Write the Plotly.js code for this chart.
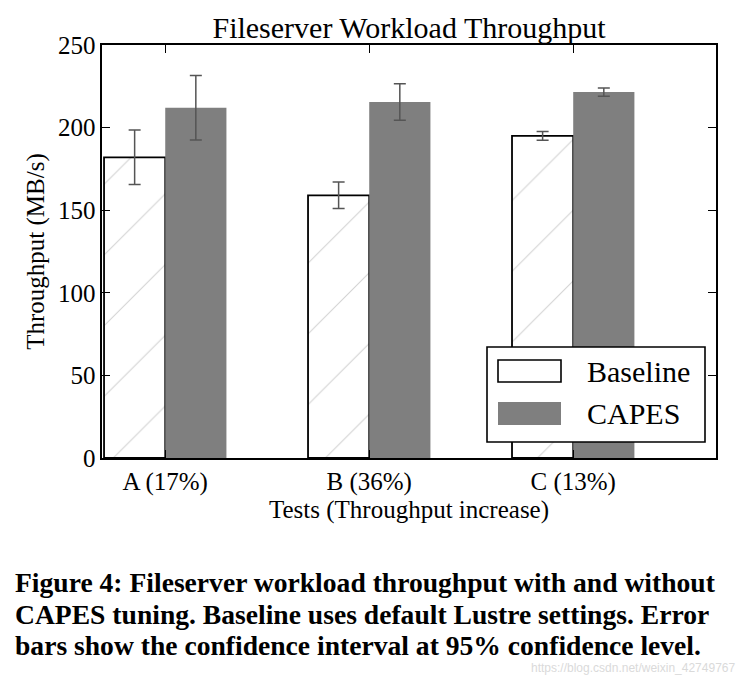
<!DOCTYPE html>
<html>
<head>
<meta charset="utf-8">
<script src="https://cdn.plot.ly/plotly-3.0.1.min.js"></script>
<style>html,body{margin:0;padding:0;background:#fff;}#chart{width:746px;height:675px;}</style>
</head>
<body>
<div id="chart"></div>
<script>
const categories = ["A (17%)", "B (36%)", "C (13%)"];
const baselineValues = [182, 159, 195];
const baselineErrors = [16.5, 8, 2.7];
const capesValues = [212, 215.5, 221.5];
const capesErrors = [19.5, 11, 2.5];
const yTicks = [0, 50, 100, 150, 200, 250];

const serif = "Liberation Serif, Times New Roman, serif";
const L = 102, R = 716, T = 45, B = 458;
const px = v => (v - L) / (R - L);
const py = v => (B - v) / (B - T);

const traces = [
  {
    type: "bar", name: "Baseline", x: categories, y: baselineValues,
    width: 0.3, offset: -0.3,
    marker: {
      color: "white",
      line: {color: "black", width: 1.8},
      pattern: {shape: "/", fgcolor: "#d2d2d2", bgcolor: "white", size: 50, solidity: 0.02}
    },
    error_y: {type: "data", array: baselineErrors, visible: true, color: "#555", thickness: 1.5, width: 6}
  },
  {
    type: "bar", name: "CAPES", x: categories, y: capesValues,
    width: 0.3, offset: 0,
    marker: {color: "#7f7f7f", line: {color: "#7f7f7f", width: 0}},
    error_y: {type: "data", array: capesErrors, visible: true, color: "#555", thickness: 1.5, width: 6}
  }
];

const layout = {
  width: 746, height: 675,
  margin: {l: L, r: 746 - R, t: T, b: 675 - B},
  paper_bgcolor: "white", plot_bgcolor: "white",
  barmode: "overlay",
  showlegend: false,
  font: {family: serif, color: "black", size: 25},
  title: {text: "Fileserver Workload Throughput", font: {family: serif, size: 30, color: "black"},
          x: 0.5, xref: "paper", y: 1 - 27 / 675, yref: "container", yanchor: "middle"},
  xaxis: {
    type: "category", range: [-0.31, 2.7],
    showline: true, linecolor: "black", linewidth: 1.6, mirror: "ticks",
    ticks: "inside", ticklen: 8, tickwidth: 1.2, tickcolor: "black",
    showgrid: false, zeroline: false,
    tickfont: {family: serif, size: 25, color: "black"},
    title: {text: "Tests (Throughput increase)", font: {family: serif, size: 25, color: "black"}, standoff: 2},
    automargin: false
  },
  yaxis: {
    range: [0, 250], tickvals: yTicks,
    showline: true, linecolor: "black", linewidth: 1.6, mirror: "ticks",
    ticks: "inside", ticklen: 8, tickwidth: 1.2, tickcolor: "black",
    showgrid: false, zeroline: false,
    tickfont: {family: serif, size: 25, color: "black"},
    title: {text: "Throughput (MB/s)", font: {family: serif, size: 25, color: "black"}, standoff: 6},
    automargin: false
  },
  shapes: [
    {type: "rect", xref: "paper", yref: "paper", layer: "above",
     x0: px(487), x1: px(705), y0: py(442), y1: py(347),
     fillcolor: "white", line: {color: "black", width: 1.6}},
    {type: "rect", xref: "paper", yref: "paper", layer: "above",
     x0: px(498), x1: px(561), y0: py(382), y1: py(360),
     fillcolor: "white", line: {color: "black", width: 1.6}},
    {type: "rect", xref: "paper", yref: "paper", layer: "above",
     x0: px(498), x1: px(561), y0: py(425), y1: py(402),
     fillcolor: "#7f7f7f", line: {color: "#7f7f7f", width: 0}}
  ],
  annotations: [
    {text: "Baseline", xref: "paper", yref: "paper", x: px(585), y: py(371), xanchor: "left", yanchor: "middle",
     showarrow: false, font: {family: serif, size: 30, color: "black"}},
    {text: "CAPES", xref: "paper", yref: "paper", x: px(585), y: py(413), xanchor: "left", yanchor: "middle",
     showarrow: false, font: {family: serif, size: 30, color: "black"}},
    {text: "Figure 4: Fileserver workload throughput with and without", xref: "paper", yref: "paper",
     x: px(13), y: py(582), xanchor: "left", yanchor: "middle", showarrow: false,
     font: {family: serif, size: 27.6, color: "black", weight: "bold"}},
    {text: "CAPES tuning. Baseline uses default Lustre settings. Error", xref: "paper", yref: "paper",
     x: px(13), y: py(614), xanchor: "left", yanchor: "middle", showarrow: false,
     font: {family: serif, size: 27.6, color: "black", weight: "bold"}},
    {text: "bars show the confidence interval at 95% confidence level.", xref: "paper", yref: "paper",
     x: px(13), y: py(645), xanchor: "left", yanchor: "middle", showarrow: false,
     font: {family: serif, size: 27.6, color: "black", weight: "bold"}},
    {text: "https://blog.csdn.net/weixin_42749767", xref: "paper", yref: "paper",
     x: px(737), y: py(668), xanchor: "right", yanchor: "middle", showarrow: false,
     font: {family: "Liberation Sans, Arial, sans-serif", size: 12, color: "#dadada"}}
  ]
};

Plotly.newPlot("chart", traces, layout, {staticPlot: true, displayModeBar: false});
</script>
</body>
</html>
